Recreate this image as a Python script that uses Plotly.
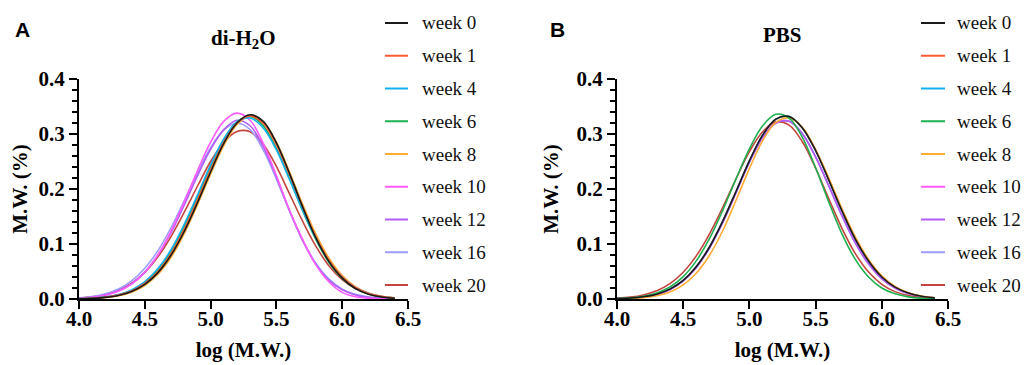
import plotly.graph_objects as go

# ---------------- data ----------------
log_mw = [4.0, 4.1, 4.2, 4.3, 4.4, 4.5, 4.6, 4.7, 4.8, 4.9, 5.0, 5.1, 5.2,
          5.3, 5.4, 5.5, 5.6, 5.7, 5.8, 5.9, 6.0, 6.1, 6.2, 6.3, 6.4]

weeks = ["week 0", "week 1", "week 4", "week 6", "week 8",
         "week 10", "week 12", "week 16", "week 20"]

colors = ["#1a1a1a", "#FF5A36", "#12B0F0", "#1DB04E", "#FFAA33",
          "#FF5CFF", "#B25CF5", "#9C9CFF", "#C4443E"]

# panel A : di-H2O
dih2o_w0 = [0.0004, 0.0012, 0.0029, 0.0065, 0.0138, 0.0267, 0.048, 0.080, 0.123, 0.175, 0.231, 0.283, 0.320,
            0.335, 0.323, 0.284, 0.228, 0.167, 0.111, 0.068, 0.038, 0.019, 0.0088, 0.0037, 0.0014]
dih2o_w1 = [0.0005, 0.0013, 0.0031, 0.0070, 0.0146, 0.0282, 0.050, 0.083, 0.127, 0.180, 0.235, 0.285, 0.320,
            0.333, 0.319, 0.280, 0.226, 0.167, 0.113, 0.070, 0.040, 0.021, 0.010, 0.0044, 0.0018]
dih2o_w4 = [0.0006, 0.0015, 0.0037, 0.0081, 0.0166, 0.0316, 0.0554, 0.090, 0.136, 0.189, 0.244, 0.291, 0.322,
            0.329, 0.311, 0.271, 0.217, 0.161, 0.110, 0.069, 0.040, 0.021, 0.0104, 0.0047, 0.0020]
dih2o_w6 = [0.0005, 0.0014, 0.0034, 0.0076, 0.0156, 0.0299, 0.053, 0.087, 0.132, 0.185, 0.240, 0.289, 0.322,
            0.332, 0.315, 0.274, 0.219, 0.160, 0.108, 0.066, 0.0375, 0.0194, 0.0092, 0.0040, 0.0016]
dih2o_w8 = [0.0004, 0.0010, 0.0025, 0.0058, 0.0125, 0.0246, 0.045, 0.076, 0.119, 0.171, 0.227, 0.279, 0.317,
            0.333, 0.322, 0.285, 0.231, 0.172, 0.118, 0.074, 0.0425, 0.0224, 0.0108, 0.0048, 0.0020]
dih2o_w10 = [0.0012, 0.0029, 0.0066, 0.0139, 0.0269, 0.0483, 0.0804, 0.124, 0.177, 0.233, 0.285, 0.323, 0.338,
             0.325, 0.283, 0.224, 0.161, 0.108, 0.062, 0.031, 0.012, 0.004, 0.0012, 0.0003, 0.0]
dih2o_w12 = [0.0014, 0.0033, 0.0073, 0.0148, 0.0279, 0.049, 0.080, 0.121, 0.171, 0.224, 0.272, 0.308, 0.325,
             0.315, 0.277, 0.222, 0.161, 0.106, 0.063, 0.034, 0.0167, 0.0074, 0.0030, 0.0011, 0.0004]
dih2o_w16 = [0.0020, 0.0045, 0.0094, 0.0182, 0.033, 0.0558, 0.088, 0.130, 0.179, 0.229, 0.275, 0.307, 0.320,
             0.308, 0.271, 0.218, 0.159, 0.106, 0.065, 0.036, 0.018, 0.0084, 0.0036, 0.0014, 0.0005]
dih2o_w20 = [0.0018, 0.0040, 0.0082, 0.0158, 0.0286, 0.0483, 0.0766, 0.114, 0.158, 0.205, 0.250, 0.285, 0.3045,
             0.304, 0.2815, 0.241, 0.191, 0.141, 0.096, 0.060, 0.035, 0.019, 0.0094, 0.0044, 0.0019]

# panel B : PBS
pbs_w0 = [0.0007, 0.0017, 0.0040, 0.0088, 0.018, 0.0338, 0.059, 0.095, 0.142, 0.196, 0.251, 0.298, 0.327,
          0.332, 0.311, 0.270, 0.216, 0.160, 0.109, 0.069, 0.040, 0.0216, 0.0108, 0.0049, 0.0021]
pbs_w1 = [0.0007, 0.0017, 0.0040, 0.0088, 0.018, 0.0338, 0.059, 0.095, 0.142, 0.196, 0.251, 0.298, 0.327,
          0.332, 0.311, 0.270, 0.216, 0.160, 0.109, 0.069, 0.040, 0.0216, 0.0108, 0.0049, 0.0021]
pbs_w4 = [0.0007, 0.0017, 0.0040, 0.0088, 0.018, 0.0338, 0.059, 0.095, 0.142, 0.196, 0.251, 0.298, 0.327,
          0.332, 0.311, 0.270, 0.216, 0.160, 0.109, 0.069, 0.040, 0.0216, 0.0108, 0.0049, 0.0021]
pbs_w6 = [0.0008, 0.0021, 0.0050, 0.0109, 0.0219, 0.0406, 0.0698, 0.1105, 0.162, 0.219, 0.273, 0.315, 0.336,
          0.329, 0.294, 0.2386, 0.176, 0.118, 0.072, 0.040, 0.020, 0.0094, 0.0039, 0.0015, 0.0005]
pbs_w8 = [0.0003, 0.0010, 0.0024, 0.0058, 0.0127, 0.0256, 0.0473, 0.080, 0.125, 0.180, 0.237, 0.288, 0.321,
          0.329, 0.312, 0.272, 0.220, 0.164, 0.113, 0.072, 0.042, 0.023, 0.0115, 0.0053, 0.0023]
pbs_w10 = [0.0006, 0.0016, 0.0038, 0.0084, 0.0173, 0.0328, 0.0577, 0.0937, 0.140, 0.194, 0.249, 0.2935, 0.320,
           0.323, 0.3006, 0.2586, 0.2054, 0.151, 0.102, 0.064, 0.037, 0.0198, 0.0098, 0.0044, 0.0019]
pbs_w12 = [0.0006, 0.0016, 0.0038, 0.0084, 0.0173, 0.0328, 0.0577, 0.0937, 0.140, 0.194, 0.249, 0.2935, 0.320,
           0.323, 0.3006, 0.2586, 0.2054, 0.151, 0.102, 0.064, 0.037, 0.0198, 0.0098, 0.0044, 0.0019]
pbs_w16 = [0.0006, 0.0016, 0.0038, 0.0084, 0.0173, 0.0328, 0.0577, 0.0937, 0.140, 0.194, 0.249, 0.2935, 0.320,
           0.323, 0.3006, 0.2586, 0.2054, 0.151, 0.102, 0.064, 0.037, 0.0198, 0.0098, 0.0044, 0.0019]
pbs_w20 = [0.0015, 0.0034, 0.0074, 0.0149, 0.0279, 0.0486, 0.0788, 0.119, 0.167, 0.219, 0.268, 0.304, 0.322,
           0.316, 0.286, 0.238, 0.182, 0.128, 0.0825, 0.049, 0.0267, 0.0134, 0.0062, 0.0026, 0.0010]

dih2o = [dih2o_w0, dih2o_w1, dih2o_w4, dih2o_w6, dih2o_w8, dih2o_w10, dih2o_w12, dih2o_w16, dih2o_w20]
pbs = [pbs_w0, pbs_w1, pbs_w4, pbs_w6, pbs_w8, pbs_w10, pbs_w12, pbs_w16, pbs_w20]

# ---------------- figure ----------------
# the page body has an 8px margin, so the figure is 8px smaller and all
# reference pixel positions are shifted by that margin
OFF = 8
W, H = 1032 - OFF, 365 - OFF
SERIF = "Liberation Serif"
SANS = "Liberation Sans"


def px(x):
    return (x - OFF) / W


def py(y):
    return 1 - (y - OFF) / H


fig = go.Figure()

panels = [
    (dih2o, "x", "y", [8, 7, 6, 5, 4, 3, 2, 1, 0]),
    (pbs, "x2", "y2", [1, 2, 5, 7, 8, 6, 4, 3, 0]),
]
for series, xa, ya, order in panels:
    for i in order:
        fig.add_trace(go.Scatter(
            x=log_mw, y=series[i], mode="lines", name=weeks[i],
            line=dict(color=colors[i], width=1.6, shape="spline", smoothing=1.0),
            xaxis=xa, yaxis=ya, showlegend=False, hoverinfo="skip",
        ))

tickfont = dict(family=SERIF, size=21, color="black", weight="bold")
titlefont = dict(family=SERIF, size=21, color="black", weight="bold")

common_x = dict(range=[4.0, 6.5], tick0=4.0, dtick=0.5, tickformat=".1f",
                showline=True, linecolor="black", linewidth=2, ticks="outside",
                ticklen=8, tickwidth=2, tickcolor="black", showgrid=False,
                zeroline=False, tickfont=tickfont, automargin=False,
                ticklabelstandoff=-8,
                title=dict(text="log (M.W.)", font=titlefont, standoff=12))
common_y = dict(range=[0, 0.4], tick0=0, dtick=0.1, tickformat=".1f",
                showline=True, linecolor="black", linewidth=2, ticks="outside",
                ticklen=8, tickwidth=2, tickcolor="black", showgrid=False,
                zeroline=False, tickfont=tickfont, automargin=False,
                minor=dict(dtick=0.02, ticks="outside", ticklen=5, tickwidth=2,
                           tickcolor="black", showgrid=False),
                title=dict(text="M.W. (%)", font=titlefont, standoff=12))

# hand-placed legends (one per panel), matching the reference's short key lines
shapes = []
annotations = []
legend_rows = [23 + 32.75 * k for k in range(len(weeks))]
for line_x0, line_x1, text_x in [(385, 408, 420), (921, 945, 955)]:
    for k, name in enumerate(weeks):
        yrow = legend_rows[k]
        shapes.append(dict(type="line", xref="paper", yref="paper",
                           x0=px(line_x0), x1=px(line_x1), y0=py(yrow), y1=py(yrow),
                           line=dict(color=colors[k], width=2)))
        annotations.append(dict(text=name, x=px(text_x), y=py(yrow), xref="paper", yref="paper",
                                showarrow=False, xanchor="left", yanchor="middle",
                                font=dict(family=SERIF, size=19, color="#111111")))

annotations += [
    dict(text="A", x=px(22), y=py(29), xref="paper", yref="paper", showarrow=False,
         xanchor="center", yanchor="middle", font=dict(family=SANS, size=21, color="black", weight="bold")),
    dict(text="B", x=px(557), y=py(29), xref="paper", yref="paper", showarrow=False,
         xanchor="center", yanchor="middle", font=dict(family=SANS, size=21, color="black", weight="bold")),
    dict(text="di-H<sub>2</sub>O", x=px(243), y=py(39), xref="paper", yref="paper", showarrow=False,
         xanchor="center", yanchor="middle", font=titlefont),
    dict(text="PBS", x=px(782), y=py(35), xref="paper", yref="paper", showarrow=False,
         xanchor="center", yanchor="middle", font=titlefont),
]

ydom = [py(299), py(79)]
fig.update_layout(
    width=W, height=H,
    margin=dict(l=0, r=0, t=0, b=0),
    paper_bgcolor="white", plot_bgcolor="white",
    showlegend=False,
    xaxis=dict(domain=[px(79), px(408)], anchor="y", **common_x),
    yaxis=dict(domain=ydom, anchor="x", **common_y),
    xaxis2=dict(domain=[px(617), px(948)], anchor="y2", **common_x),
    yaxis2=dict(domain=ydom, anchor="x2", **common_y),
    shapes=shapes,
    annotations=annotations,
)

fig.write_html("out.html")
